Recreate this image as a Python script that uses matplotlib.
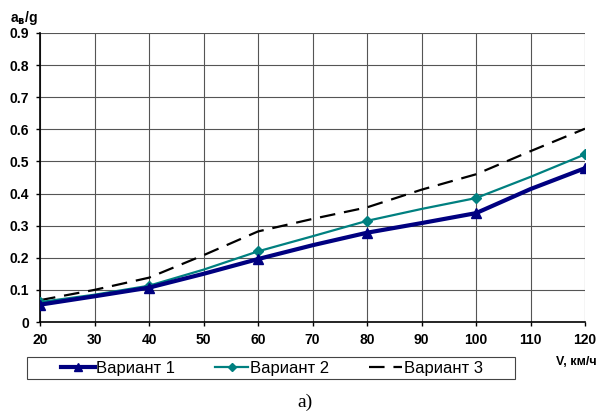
import matplotlib
matplotlib.use('Agg')
import matplotlib.pyplot as plt
from matplotlib.patches import Rectangle

plt.rcParams['font.family'] = ['Liberation Sans', 'DejaVu Sans']

# speed, km/h
speed = [20, 30, 40, 50, 60, 70, 80, 90, 100, 110, 120]
var1 = [0.054, 0.080, 0.107, 0.150, 0.196, 0.239, 0.278, 0.308, 0.339, 0.414, 0.479]
var2 = [0.062, 0.085, 0.113, 0.163, 0.220, 0.267, 0.315, 0.352, 0.386, 0.452, 0.522]
var3 = [0.068, 0.100, 0.138, 0.208, 0.282, 0.321, 0.357, 0.412, 0.460, 0.532, 0.602]
labels = ['Вариант 1', 'Вариант 2', 'Вариант 3']

x_ticks = list(range(20, 121, 10))
y_ticks = [0, 0.1, 0.2, 0.3, 0.4, 0.5, 0.6, 0.7, 0.8, 0.9]
y_ticklabels = ['0', '0.1', '0.2', '0.3', '0.4', '0.5', '0.6', '0.7', '0.8', '0.9']

W, H = 601, 412
fig = plt.figure(figsize=(W / 100, H / 100), dpi=100)
ax = fig.add_axes([40 / W, (H - 322) / H, 545 / W, 289 / H])

ax.plot(speed, var1, color='#000080', lw=3.0, marker='^', ms=6.5,
        markevery=2, label=labels[0], zorder=5)
ax.plot(speed, var2, color='#008080', lw=1.6, marker='D', ms=5,
        markevery=2, label=labels[1], zorder=4)
ax.plot(speed, var3, color='black', lw=1.6, dashes=(7, 4),
        label=labels[2], zorder=3)

ax.set_xlim(20, 120)
ax.set_ylim(0, 0.9)
ax.set_xticks(x_ticks)
ax.set_yticks(y_ticks)
ax.set_yticklabels(y_ticklabels)
ax.grid(True, color='#555555', lw=0.8)
ax.set_axisbelow(True)
ax.tick_params(labelsize=10, length=3, width=1, direction='out', pad=5)
for lab in ax.get_xticklabels() + ax.get_yticklabels():
    lab.set_fontweight('bold')
ax.spines['top'].set_visible(False)
ax.spines['right'].set_visible(False)
ax.spines['left'].set_linewidth(1.2)
ax.spines['bottom'].set_linewidth(1.2)

fig.text(10 / W, 1 - 18 / H, r'a$_\mathbf{в}$/g', fontsize=10, fontweight='bold',
         ha='left', va='center')
fig.text(576 / W, 1 - 362 / H, 'V, км/ч', fontsize=9, fontweight='bold',
         ha='center', va='center')
fig.text(305 / W, 1 - 402 / H, 'а)', fontsize=14, ha='center', va='center',
         family=['Liberation Serif', 'DejaVu Serif'])

# legend frame drawn separately to match the wide box
fig.patches.append(Rectangle((26.7 / W, 1 - 379 / H), (515 - 26.7) / W, 22 / H,
                             transform=fig.transFigure, fill=False,
                             edgecolor='#444444', lw=0.8))
fig.legend(loc='center', bbox_to_anchor=(272 / W, 1 - 368 / H), ncol=3,
           fontsize=12, frameon=False, numpoints=1, markerscale=0.8,
           handlelength=2.0, columnspacing=2.4, handletextpad=0.08,
           borderpad=0.1)

fig.savefig('out.png', dpi=100)
